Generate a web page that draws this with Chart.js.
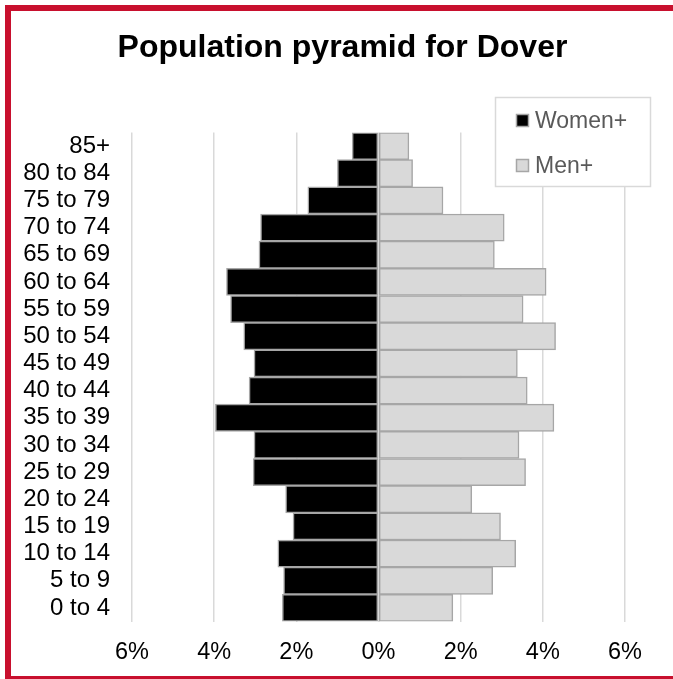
<!DOCTYPE html>
<html>
<head>
<meta charset="utf-8">
<title>Population pyramid for Dover</title>
<script src="https://cdn.jsdelivr.net/npm/chart.js@4.4.1/dist/chart.umd.min.js"></script>
<style>
  html, body { margin: 0; padding: 0; background: #fff; width: 673px; height: 679px; overflow: hidden; }
  #frame { position: absolute; left: 5px; top: 5px; width: 663px; height: 665px; border: 6px solid #c8102e; }
  #title { position: absolute; left: 0; top: 16px; width: 663px; text-align: center;
           font: bold 32px 'Liberation Sans', Arial, sans-serif; line-height: 38px; color: #000; }
  canvas { display: block; }
</style>
</head>
<body>
<div id="frame">
  <canvas id="chart" width="663" height="665" style="width:663px;height:665px"></canvas>
  <div id="title">Population pyramid for Dover</div>
</div>
<script>
// age groups, top to bottom
const ageGroups = ['85+', '80 to 84', '75 to 79', '70 to 74', '65 to 69', '60 to 64', '55 to 59',
  '50 to 54', '45 to 49', '40 to 44', '35 to 39', '30 to 34', '25 to 29', '20 to 24',
  '15 to 19', '10 to 14', '5 to 9', '0 to 4'];

// share of population, %
const women = [0.64, 1.00, 1.72, 2.87, 2.91, 3.70, 3.60, 3.28, 3.03, 3.15, 3.97, 3.03, 3.05, 2.26, 2.08, 2.45, 2.31, 2.34];
const men = [0.74, 0.83, 1.57, 3.06, 2.82, 4.08, 3.52, 4.31, 3.38, 3.62, 4.27, 3.42, 3.58, 2.27, 2.97, 3.34, 2.78, 1.81];

const xTicks = [-6, -4, -2, 0, 2, 4, 6];

const FONT = 'Liberation Sans, Arial, sans-serif';

// legend in a white box, drawn on top of the gridlines
const boxLegend = {
  id: 'boxLegend',
  afterDraw(chart) {
    const ctx = chart.ctx;
    const x = 484.5, y = 86.5, w = 155, h = 89;
    ctx.save();
    ctx.fillStyle = '#fff';
    ctx.fillRect(x, y, w, h);
    ctx.strokeStyle = '#d9d9d9';
    ctx.lineWidth = 1.5;
    ctx.strokeRect(x, y, w, h);
    ctx.font = '23px ' + FONT;
    ctx.textBaseline = 'middle';
    ctx.textAlign = 'left';
    chart.data.datasets.forEach((ds, i) => {
      const cy = y + 23 + i * 45;
      ctx.fillStyle = ds.backgroundColor;
      ctx.fillRect(x + 21, cy - 6, 12, 12);
      ctx.strokeStyle = ds.borderColor;
      ctx.lineWidth = 1.5;
      ctx.strokeRect(x + 21, cy - 6, 12, 12);
      ctx.fillStyle = '#595959';
      ctx.fillText(ds.label, x + 39.5, cy + 1);
    });
    ctx.restore();
  }
};

new Chart(document.getElementById('chart'), {
  type: 'bar',
  data: {
    labels: ageGroups,
    datasets: [
      {
        label: 'Women+',
        data: women.map(v => -v),
        backgroundColor: '#000000',
        borderColor: '#a6a6a6',
        borderWidth: 1.5,
        borderSkipped: false,
        barPercentage: 1,
        categoryPercentage: 1
      },
      {
        label: 'Men+',
        data: men,
        backgroundColor: '#d9d9d9',
        borderColor: '#a6a6a6',
        borderWidth: 1.5,
        borderSkipped: false,
        barPercentage: 1,
        categoryPercentage: 1
      }
    ]
  },
  options: {
    indexAxis: 'y',
    responsive: false,
    animation: false,
    layout: { padding: { left: 11, right: 49, top: 121.5, bottom: 0 } },
    plugins: {
      legend: { display: false },
      tooltip: { enabled: false }
    },
    scales: {
      x: {
        stacked: true,
        min: -6,
        max: 6,
        afterBuildTicks: axis => { axis.ticks = xTicks.map(v => ({ value: v })); },
        afterFit: s => { s.height = 54.5; },
        grid: { color: '#d9d9d9', lineWidth: 1.5, drawTicks: false },
        border: { display: false },
        ticks: {
          padding: 17,
          color: '#000',
          font: { family: FONT, size: 23.5 },
          callback: v => Math.abs(v) + '%'
        }
      },
      y: {
        stacked: true,
        grid: { display: false, drawTicks: false },
        border: { display: false },
        afterFit: s => { s.width = 110; },
        ticks: {
          autoSkip: false,
          padding: 22,
          color: '#000',
          font: { family: FONT, size: 24 }
        }
      }
    }
  },
  plugins: [boxLegend]
});
</script>
</body>
</html>
